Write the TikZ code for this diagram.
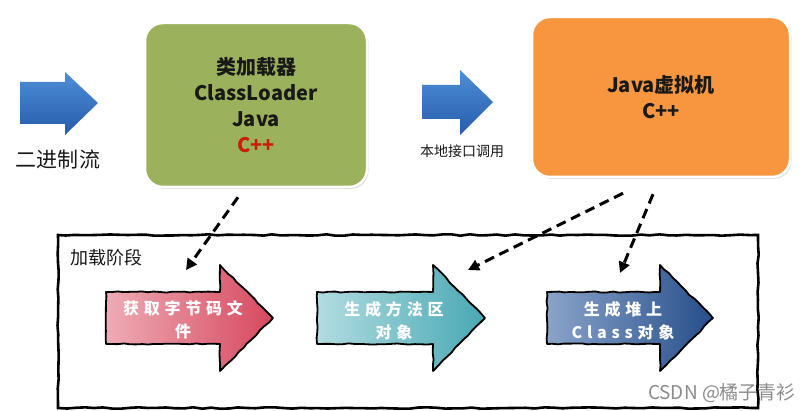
\documentclass[tikz,border=0pt]{standalone}
\usepackage{fontspec}
\setmainfont{Noto Sans CJK SC}
\usetikzlibrary{arrows.meta,shadows,decorations.pathmorphing,calc}
\definecolor{boxgreen}{RGB}{155,177,91}
\definecolor{boxorange}{RGB}{247,150,62}
\definecolor{cppred}{RGB}{200,30,10}
\definecolor{txtdark}{RGB}{25,25,25}
\definecolor{bluetop}{RGB}{78,142,215}
\definecolor{bluebot}{RGB}{38,92,170}
\definecolor{redL}{RGB}{238,172,182}
\definecolor{redR}{RGB}{214,72,94}
\definecolor{tealL}{RGB}{178,220,224}
\definecolor{tealR}{RGB}{72,168,180}
\definecolor{navyL}{RGB}{138,164,202}
\definecolor{navyR}{RGB}{38,78,138}
\tikzset{
  bigbox/.style={draw=white, line width=2.5pt, rounded corners=18pt,
    drop shadow={opacity=0.25, shadow xshift=1.5pt, shadow yshift=-2pt},
    text=txtdark, align=center, font=\fontsize{20}{26}\selectfont\bfseries},
  flowarrow/.style={draw=black, line width=1.8pt, line join=round,
    decorate, decoration={random steps, segment length=6pt, amplitude=0.6pt}},
  steplabel/.style={text=white, align=center,
    font=\fontsize{16}{23}\selectfont\bfseries\addfontfeature{LetterSpace=30}},
  dasharrow/.style={line width=3pt, dash pattern=on 10pt off 6pt,
    -{Triangle[length=11pt,width=11pt]}},
  bluearrow/.style={top color=bluetop, bottom color=bluebot},
  plainlabel/.style={text=txtdark},
}
\begin{document}
\begin{tikzpicture}[x=1pt,y=-1pt]
\useasboundingbox (0,0) rectangle (810,411);
\fill[white] (0,0) rectangle (810,411);
\pgfmathsetseed{7}

% top blue arrows
\shade[bluearrow] (20,82) -- (65,82) -- (65,72) -- (98,103) -- (65,135) -- (65,124) -- (20,124) -- cycle;
\node[plainlabel, font=\fontsize{21}{21}\selectfont] (bin) at (58,160) {二进制流};
\shade[bluearrow] (422,85) -- (460,85) -- (460,70) -- (493,102) -- (460,135) -- (460,119) -- (422,119) -- cycle;
\node[plainlabel, font=\fontsize{14}{14}\selectfont] (jni) at (462,151) {本地接口调用};

% boxes
\node[bigbox, fill=boxgreen, minimum width=222pt, minimum height=164pt] (cl) at (256,105)
  {类加载器\\ClassLoader\\Java\\\textcolor{cppred}{C++}};
\node[bigbox, fill=boxorange, minimum width=258pt, minimum height=160pt] (jvm) at (661,97)
  {Java虚拟机\\C++};

% loading stage frame
\draw[line width=2.6pt, decorate, decoration={random steps, segment length=9pt, amplitude=0.7pt}]
  (58,235) rectangle (758,408);
\node[plainlabel, font=\fontsize{18}{18}\selectfont] (stage) at (106,258) {加载阶段};

% step arrows
\shadedraw[flowarrow, left color=redL, right color=redR]
  (106,292) -- (220,292) -- (220,265) -- (273,318) -- (220,371) -- (220,344) -- (106,344) -- cycle;
\shadedraw[flowarrow, left color=tealL, right color=tealR]
  (317,292) -- (433,292) -- (433,265) -- (485,318) -- (433,371) -- (433,344) -- (317,344) -- cycle;
\shadedraw[flowarrow, left color=navyL, right color=navyR]
  (547,292) -- (660,292) -- (660,265) -- (713,318) -- (660,371) -- (660,344) -- (547,344) -- cycle;
\node[steplabel] (s1) at (183,320) {获取字节码文\\件};
\node[steplabel] (s2) at (394,321) {生成方法区\\对象};
\node[steplabel] (s3) at (623,321) {生成堆上\\Class对象};

% dashed connectors
\coordinate (d1s) at ($(cl.south)+(-18,9)$);
\coordinate (d1e) at (186,270);
\coordinate (d2s) at ($(jvm.south)+(-38,15)$);
\coordinate (d2e) at (468,270);
\coordinate (d3s) at ($(jvm.south)+(-8,16)$);
\coordinate (d3e) at (620,273);
\draw[dasharrow] (d1s) -- (d1e);
\draw[dasharrow] (d2s) -- (d2e);
\draw[dasharrow] (d3s) -- (d3e);

% watermark
\node[text=black!45, font=\fontsize{19}{19}\selectfont] (wm) at (722,393) {CSDN @橘子青衫};
\end{tikzpicture}
\end{document}
